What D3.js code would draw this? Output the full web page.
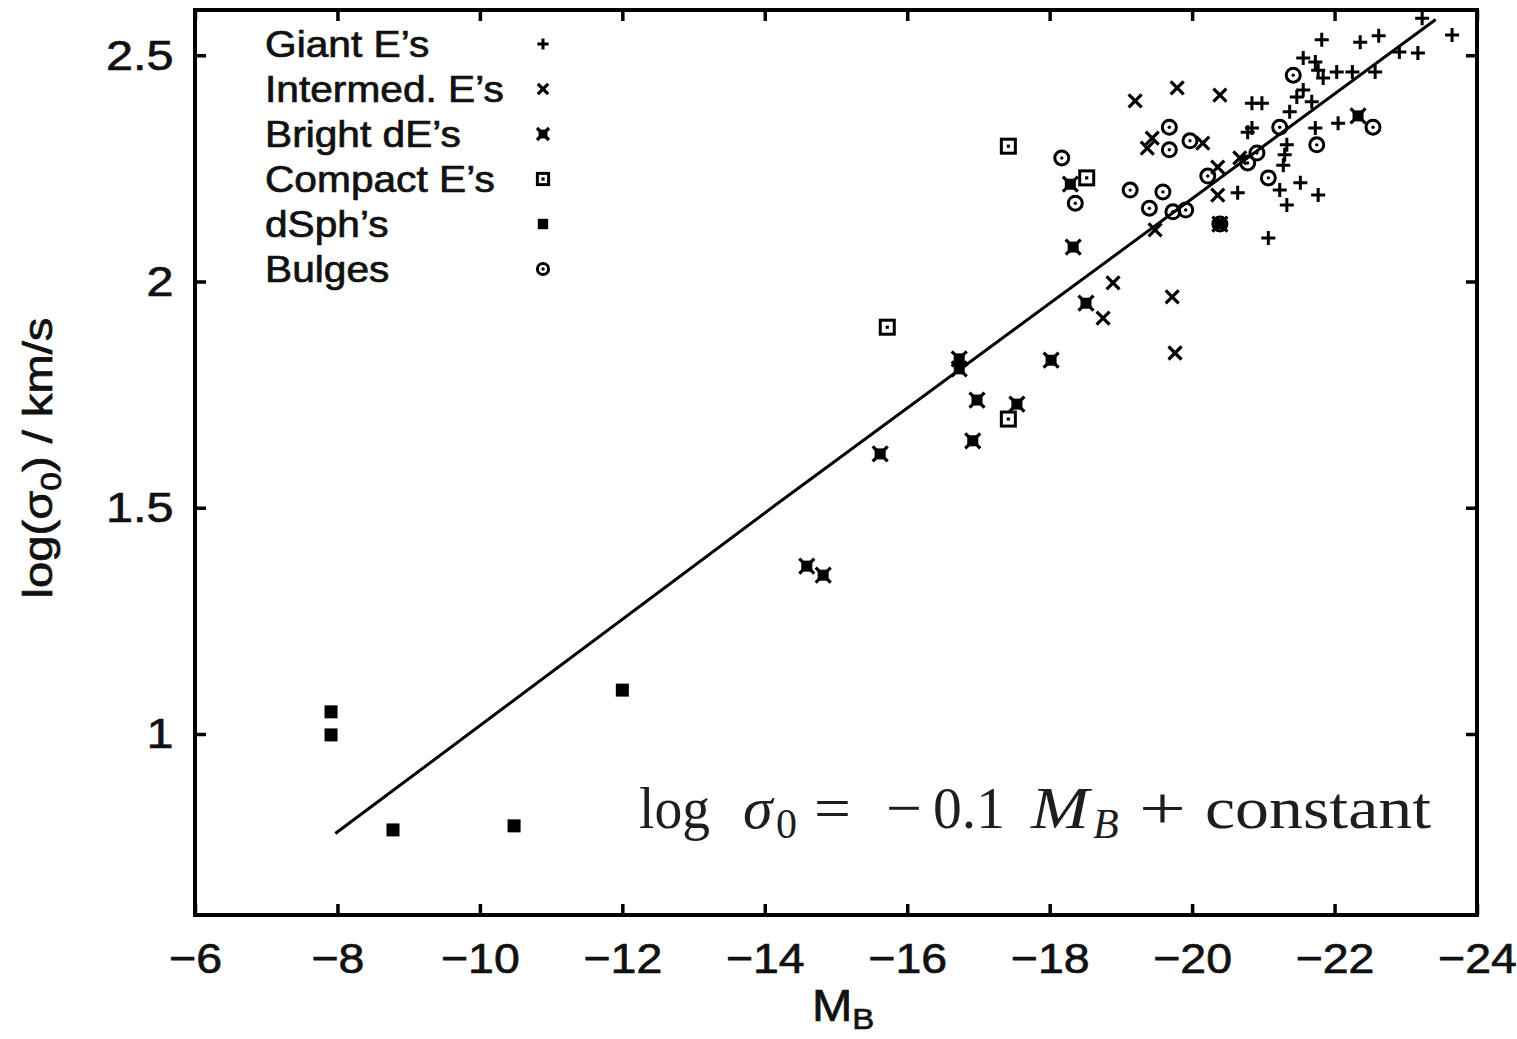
<!DOCTYPE html>
<html>
<head>
<meta charset="utf-8">
<script src="https://cdn.jsdelivr.net/npm/d3@7"></script>
<style>
  body { margin: 0; background: #fff; }
  .sans { font-family: "Liberation Sans", Arial, sans-serif; fill: #111; stroke: #111; stroke-width: 0.7px; }
  .serif { font-family: "Liberation Serif", "Times New Roman", serif; fill: #1e1e1e; }
</style>
</head>
<body>
<div id="chart"></div>
<script>
// ---- data: [M_B, log sigma0] ----
const giantEs = [
  [-23.23, 2.582], [-23.65, 2.545], [-23.17, 2.505], [-22.91, 2.507], [-22.62, 2.543],
  [-22.36, 2.529], [-21.82, 2.534], [-22.57, 2.463], [-22.25, 2.463], [-22.03, 2.463],
  [-21.84, 2.450], [-22.05, 2.350], [-21.56, 2.494], [-21.73, 2.485], [-21.77, 2.467],
  [-21.56, 2.423], [-21.47, 2.408], [-21.68, 2.397], [-21.37, 2.375], [-20.84, 2.394],
  [-20.98, 2.394], [-20.84, 2.339], [-21.73, 2.339], [-21.33, 2.302], [-21.30, 2.280],
  [-21.28, 2.257], [-21.52, 2.218], [-21.23, 2.202], [-21.33, 2.169], [-21.77, 2.191],
  [-21.07, 2.096], [-20.64, 2.196], [-20.78, 2.330]
];
const intermedEs = [
  [-19.20, 2.399], [-19.79, 2.428], [-20.39, 2.412], [-19.44, 2.317], [-19.37, 2.295],
  [-20.15, 2.306], [-20.36, 2.253], [-20.36, 2.191], [-19.48, 2.114], [-18.89, 1.997],
  [-18.75, 1.919], [-19.72, 1.966], [-19.76, 1.842], [-20.67, 2.273]
];
const brightdEs = [
  [-14.59, 1.371], [-14.82, 1.351], [-15.62, 1.619], [-16.73, 1.829], [-16.73, 1.807],
  [-16.98, 1.738], [-16.92, 1.648], [-17.54, 1.729], [-18.02, 1.826], [-18.33, 2.076],
  [-18.29, 2.215], [-18.51, 1.952], [-22.33, 2.366], [-20.39, 2.127]
];
const compactEs = [
  [-17.42, 2.299], [-15.72, 1.899], [-17.42, 1.696], [-18.52, 2.229]
];
const dSphs = [
  [-7.91, 1.049], [-7.91, 0.998], [-8.78, 0.788], [-10.48, 0.797], [-12.0, 1.097]
];
const bulges = [
  [-18.17, 2.273], [-18.36, 2.173], [-19.13, 2.202], [-19.68, 2.341], [-19.68, 2.291],
  [-19.97, 2.311], [-19.59, 2.198], [-19.40, 2.162], [-19.73, 2.154], [-19.91, 2.158],
  [-20.22, 2.233], [-20.39, 2.127], [-20.91, 2.284], [-21.23, 2.341], [-21.42, 2.456],
  [-21.75, 2.302], [-22.54, 2.341], [-21.07, 2.229], [-20.78, 2.262]
];
// fitted relation log sigma0 = -0.1 M_B + const, as drawn
const fitLine = [[-7.97, 0.78], [-14.15, 1.506], [-23.42, 2.579]];

const xTicks = [-6, -8, -10, -12, -14, -16, -18, -20, -22, -24];
const yTicks = [1, 1.5, 2, 2.5];
const legendNames = ["Giant E\u2019s", "Intermed. E\u2019s", "Bright dE\u2019s", "Compact E\u2019s", "dSph\u2019s", "Bulges"];

// ---- layout ----
const W = 1517, H = 1039;
const margin = { top: 10, right: 40, bottom: 124, left: 195 };
const width = W - margin.left - margin.right;
const height = H - margin.top - margin.bottom;

const svg = d3.select("#chart").append("svg")
  .attr("width", W).attr("height", H);
const g = svg.append("g")
  .attr("transform", "translate(" + margin.left + "," + margin.top + ")");

const x = d3.scaleLinear().domain([-6, -24]).range([0, width]);
const y = d3.scaleLinear().domain([0.6, 2.6]).range([height, 0]);

// axes, ticks pointing inwards, mirrored on top/right
const xAxis = g.append("g").attr("transform", "translate(0," + height + ")")
  .call(d3.axisBottom(x).tickValues(xTicks).tickSizeInner(-11).tickSizeOuter(0).tickPadding(27));
const yAxis = g.append("g")
  .call(d3.axisLeft(y).tickValues(yTicks).tickFormat(d3.format("")).tickSizeInner(-11).tickSizeOuter(0).tickPadding(19));
const xTop = g.append("g")
  .call(d3.axisTop(x).tickValues(xTicks).tickSizeInner(-11).tickSizeOuter(0).tickFormat(""));
const yRight = g.append("g").attr("transform", "translate(" + width + ",0)")
  .call(d3.axisRight(y).tickValues(yTicks).tickSizeInner(-11).tickSizeOuter(0).tickFormat(""));

[xAxis, yAxis, xTop, yRight].forEach(a => {
  a.attr("font-family", null).attr("font-size", null);
  a.select(".domain").remove();
  a.selectAll(".tick line").attr("stroke", "#000").attr("stroke-width", 3.5);
  a.selectAll(".tick text")
    .attr("class", "sans")
    .attr("fill", null)
    .style("font-size", "43px");
});
xAxis.selectAll(".tick text").attr("transform", "scale(1.08,1)");
yAxis.selectAll(".tick text").attr("transform", "scale(1.13,1)");

g.append("rect")
  .attr("width", width).attr("height", height)
  .attr("fill", "none").attr("stroke", "#000").attr("stroke-width", 4);

// fit line
g.append("path")
  .datum(fitLine)
  .attr("d", d3.line().x(d => x(d[0])).y(d => y(d[1])))
  .attr("fill", "none").attr("stroke", "#000").attr("stroke-width", 3);

// point symbols (gnuplot style)
function drawSymbol(sel, type, s) {
  const k = s || 1;
  if (type === "plus") {
    sel.append("path").attr("d", `M${-7*k},0H${7*k}M0,${-7*k}V${7*k}`)
      .attr("stroke", "#000").attr("stroke-width", 3).attr("fill", "none");
  } else if (type === "cross") {
    sel.append("path").attr("d", `M${-6.5*k},${-6.5*k}L${6.5*k},${6.5*k}M${-6.5*k},${6.5*k}L${6.5*k},${-6.5*k}`)
      .attr("stroke", "#000").attr("stroke-width", 3.2).attr("fill", "none");
  } else if (type === "star") {
    sel.append("path").attr("d", `M${-7.5*k},${-7.5*k}L${7.5*k},${7.5*k}M${-7.5*k},${7.5*k}L${7.5*k},${-7.5*k}`)
      .attr("stroke", "#000").attr("stroke-width", 3.2).attr("fill", "none");
    sel.append("rect").attr("x", -5.5*k).attr("y", -5.5*k).attr("width", 11*k).attr("height", 11*k)
      .attr("fill", "#000");
  } else if (type === "box") {
    sel.append("rect").attr("x", -7*k).attr("y", -7*k).attr("width", 14*k).attr("height", 14*k)
      .attr("fill", "none").attr("stroke", "#000").attr("stroke-width", 3);
    sel.append("rect").attr("x", -1.6).attr("y", -1.6).attr("width", 3.2).attr("height", 3.2).attr("fill", "#000");
  } else if (type === "fbox") {
    sel.append("rect").attr("x", -6.5*k).attr("y", -6.5*k).attr("width", 13*k).attr("height", 13*k)
      .attr("fill", "#000");
  } else if (type === "circle") {
    sel.append("circle").attr("r", 7*k)
      .attr("fill", "none").attr("stroke", "#000").attr("stroke-width", 3);
    sel.append("circle").attr("r", 1.7).attr("fill", "#000");
  }
}

const series = [
  { data: giantEs, type: "plus" },
  { data: intermedEs, type: "cross" },
  { data: brightdEs, type: "star" },
  { data: compactEs, type: "box" },
  { data: dSphs, type: "fbox" },
  { data: bulges, type: "circle" }
];

series.forEach(s => {
  g.append("g").selectAll("g")
    .data(s.data)
    .enter().append("g")
    .attr("transform", d => "translate(" + x(d[0]) + "," + y(d[1]) + ")")
    .each(function () { drawSymbol(d3.select(this), s.type); });
});

// legend
const legend = g.append("g").attr("transform", "translate(70,0)");
legendNames.forEach((name, i) => {
  const row = legend.append("g").attr("transform", "translate(0," + (47 + i * 45) + ")");
  row.append("text")
    .attr("class", "sans")
    .style("font-size", "36px")
    .attr("transform", "scale(1.13,1)")
    .text(name);
  const m = row.append("g").attr("transform", "translate(278,-13)");
  drawSymbol(m, series[i].type, 0.8);
});

// axis titles
const yTitle = svg.append("text")
  .attr("class", "sans")
  .attr("transform", "translate(52,458) rotate(-90) scale(1.15,1)")
  .attr("text-anchor", "middle")
  .style("font-size", "41px");
yTitle.append("tspan").text("log(\u03c3");
yTitle.append("tspan").style("font-size", "29px").attr("dy", 9).text("0");
yTitle.append("tspan").attr("dy", -9).text(") / km/s");

const xTitle = svg.append("text")
  .attr("class", "sans")
  .attr("transform", "translate(812,1021) scale(1.1,1)")
  .style("font-size", "44px");
xTitle.append("tspan").text("M");
xTitle.append("tspan").style("font-size", "30px").attr("dy", 8).text("B");

// equation annotation
const eq = svg.append("g");
const eqBase = 828, eqSub = 838;
const eqParts = [
  { t: "log", x: 639, len: 71, size: 60 },
  { t: "\u03c3", x: 743, size: 60, italic: true },
  { t: "0", x: 776, size: 42, sub: true },
  { t: "=", x: 814, len: 37, size: 60 },
  { t: "\u2212", x: 886, len: 36, size: 60 },
  { t: "0.1", x: 933, len: 72, size: 60 },
  { t: "M", x: 1031, len: 58, size: 60, italic: true },
  { t: "B", x: 1093, size: 42, italic: true, sub: true },
  { t: "+", x: 1139, len: 47, size: 60 },
  { t: "constant", x: 1205, len: 226, size: 60 }
];
eqParts.forEach(p => {
  const t = eq.append("text")
    .attr("class", "serif")
    .attr("x", p.x).attr("y", p.sub ? eqSub : eqBase)
    .style("font-size", p.size + "px")
    .style("font-style", p.italic ? "italic" : "normal")
    .text(p.t);
  if (p.len) t.attr("textLength", p.len).attr("lengthAdjust", "spacingAndGlyphs");
});
</script>
</body>
</html>
